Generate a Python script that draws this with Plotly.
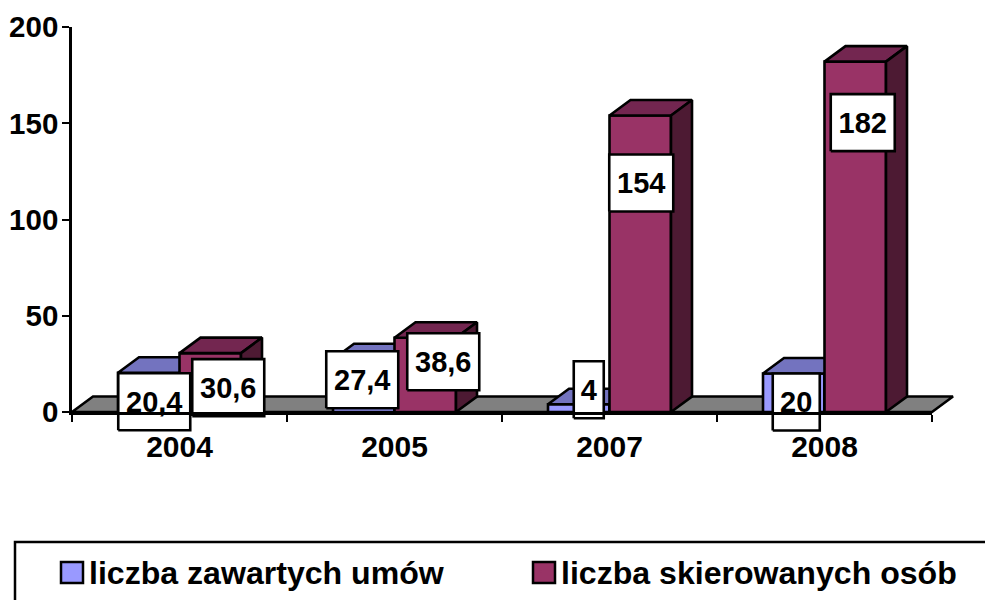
import plotly.graph_objects as go

years = ["2004", "2005", "2007", "2008"]
umowy = [20.4, 27.4, 4, 20]
osoby = [30.6, 38.6, 154, 182]
name_umowy = "liczba zawartych umów"
name_osoby = "liczba skierowanych osób"
y_ticks = [0, 50, 100, 150, 200]

# page geometry
L, T, R, B = 72, 27, 932, 412
W, H = 985, 600
px_x = (R - L) / 4          # px per category
px_y = (B - T) / 200        # px per value unit
DX, DY = 21 / px_x, 15.5 / px_y   # depth of the pseudo-3D extrusion
BAR_W = 61.5 / px_x

FONT = "Liberation Sans"
LW = 2.6

fig = go.Figure()


def poly(xs, ys, fill):
    # drawn on the full-page x/y subplot, which shares its scale with the visible axes
    fig.add_trace(go.Scatter(
        x=xs + xs[:1], y=ys + ys[:1], mode="lines", fill="toself", fillcolor=fill,
        line=dict(color="black", width=LW), showlegend=False, hoverinfo="skip"))


def bar3d(x0, v, front, top, side):
    x1 = x0 + BAR_W
    poly([x0, x1, x1, x0], [0, 0, v, v], front)
    poly([x0, x1, x1 + DX, x0 + DX], [v, v, v + DY, v + DY], top)
    poly([x1, x1 + DX, x1 + DX, x1], [0, DY, v + DY, v], side)


# floor
poly([-0.5, 3.5, 3.5 + DX, -0.5 + DX], [0, 0, DY, DY], "#808080")

for i in range(len(years)):
    bar3d(i - BAR_W, umowy[i], "#9999FF", "#7373BF", "#4D4D80")
    bar3d(i, osoby[i], "#993366", "#732650", "#4D1A33")

# value-label boxes: (dx from bar centre, dy below bar top, half-width), in px
HALF_H = 28.5
TEXT_DROP = 3
offsets_umowy = [(5.5, 29, 36), (-1.5, 20.5, 36), (10, -14.5, 15), (2.5, 28.5, 23.5)]
offsets_osoby = [(18, 34.5, 36), (18, 24, 36), (1, 67.5, 32), (7.5, 61, 32)]


def fmt(v):
    return f"{v:g}".replace(".", ",")


labels = []
for i in range(len(years)):
    for vals, offs, cx in ((umowy, offsets_umowy, i - BAR_W / 2), (osoby, offsets_osoby, i + BAR_W / 2)):
        v = vals[i]
        dx, dy, hw = offs[i]
        xc = cx + dx / px_x
        yc = v - dy / px_y
        poly([xc - hw / px_x, xc + hw / px_x, xc + hw / px_x, xc - hw / px_x],
             [yc - HALF_H / px_y, yc - HALF_H / px_y, yc + HALF_H / px_y, yc + HALF_H / px_y], "white")
        labels.append((xc, yc - TEXT_DROP / px_y, fmt(v)))

fig.add_trace(go.Scatter(
    x=[a[0] for a in labels], y=[a[1] for a in labels], text=[a[2] for a in labels],
    mode="text", textposition="middle center", showlegend=False, hoverinfo="skip",
    textfont=dict(family=FONT, size=29, color="black", weight=700)))

# legend entries (on the visible-axes subplot), one legend each
for nm, col, lg in ((name_umowy, "#9999FF", "legend"), (name_osoby, "#993366", "legend2")):
    fig.add_trace(go.Scatter(
        x=[None], y=[None], xaxis="x2", yaxis="y2", mode="markers", name=nm, legend=lg, showlegend=True,
        marker=dict(symbol="square", size=2, color=col, line=dict(width=0))))


def xp(px):
    return px / W


def yp(py):
    return (H - py) / H


def legend_at(px):
    return dict(
        xref="paper", yref="paper", x=xp(px), xanchor="left", y=yp(572), yanchor="middle",
        bgcolor="rgba(0,0,0,0)", font=dict(family=FONT, size=32.1, color="black", weight=700))


def swatch(x0, x1, col):
    return dict(type="rect", xref="paper", yref="paper", x0=xp(x0), x1=xp(x1), y0=yp(583), y1=yp(562),
                line=dict(color="black", width=2.5), fillcolor=col, layer="above")


fig.update_layout(
    width=W, height=H, autosize=False,
    margin=dict(l=0, r=0, t=0, b=0, pad=0, autoexpand=False),
    paper_bgcolor="white", plot_bgcolor="rgba(0,0,0,0)",
    font=dict(family=FONT, size=29, color="black", weight=700),
    # full-page subplot holding the marks, so that depth and label boxes can leave the axes' area
    xaxis=dict(domain=[0, 1], range=[-0.5 - L / px_x, -0.5 + (W - L) / px_x], visible=False, fixedrange=True),
    yaxis=dict(domain=[0, 1], range=[(B - H) / px_y, B / px_y], visible=False, fixedrange=True),
    # visible axes, drawn over the marks
    xaxis2=dict(
        domain=[L / W, R / W], anchor="y2",
        range=[-0.5, 3.5], tickmode="array", tickvals=list(range(len(years))), ticktext=years,
        ticks="", showgrid=False, zeroline=False, showline=True, linecolor="black", linewidth=LW,
        ticklabelstandoff=6,
        minor=dict(tickmode="array", tickvals=[-0.5, 0.5, 1.5, 2.5, 3.5], ticks="outside",
                   ticklen=7, tickwidth=2, tickcolor="black", showgrid=False),
        tickfont=dict(family=FONT, size=30, color="black", weight=700)),
    yaxis2=dict(
        domain=[(H - B) / H, (H - T) / H], anchor="x2",
        range=[0, 200], tickmode="array", tickvals=y_ticks, ticks="outside", ticklen=7,
        tickwidth=2, tickcolor="black", showgrid=False, zeroline=False, showline=True,
        linecolor="black", linewidth=LW, ticklabelstandoff=-2,
        tickfont=dict(family=FONT, size=29.5, color="black", weight=700)),
    legend=legend_at(49),
    legend2=legend_at(521),
    shapes=[
        dict(type="rect", xref="paper", yref="paper", x0=xp(15), x1=xp(1100), y0=yp(700), y1=yp(542),
             line=dict(color="black", width=2.5), fillcolor="white", layer="below"),
        swatch(61, 83, "#9999FF"),
        swatch(533, 555, "#993366"),
    ],
)

fig.write_html("out.html", config={"displayModeBar": False},
               post_script="document.body.style.margin='0';")
